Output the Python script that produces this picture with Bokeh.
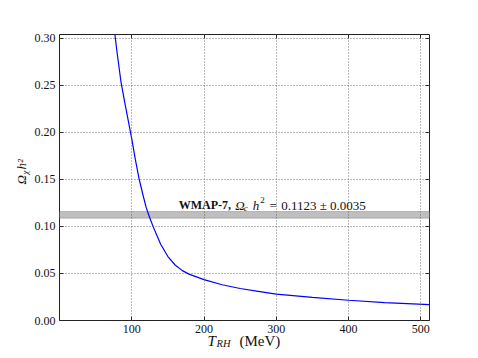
import math
from bokeh.plotting import figure
from bokeh.models import Label, BoxAnnotation, LinearAxis, FixedTicker, Range1d
from bokeh.embed import file_html
from bokeh.resources import INLINE

# --- data ---
t_rh = [76, 80, 85, 90, 95, 100, 105, 110, 115, 120, 125, 130, 140, 150, 160,
        170, 180, 200, 225, 250, 275, 300, 350, 400, 450, 512]
omega = [0.308, 0.283, 0.254, 0.233, 0.213, 0.193, 0.171, 0.151, 0.135, 0.120,
         0.109, 0.099, 0.081, 0.068, 0.059, 0.053, 0.049, 0.0435, 0.038, 0.034,
         0.031, 0.028, 0.0245, 0.0215, 0.019, 0.0168]
wmap_central = 0.1123
wmap_err = 0.0035
x_ticks = [100, 200, 300, 400, 500]
x_tick_labels = ["100", "200", "300", "400", "500"]
y_ticks = [0.0, 0.05, 0.10, 0.15, 0.20, 0.25, 0.30]
y_tick_labels = ["0.00", "0.05", "0.10", "0.15", "0.20", "0.25", "0.30"]

SERIF = "Liberation Serif"

p = figure(width=470, height=350, output_backend="svg", toolbar_location=None,
           x_range=Range1d(0, 512), y_range=Range1d(0, 0.304),
           min_border_left=59, min_border_right=41, min_border_top=34,
           min_border_bottom=30, background_fill_color="white",
           border_fill_color="white")
p.outline_line_color = "#222222"
p.outline_line_width = 1

band = BoxAnnotation(bottom=wmap_central - wmap_err, top=wmap_central + wmap_err,
                     fill_color="#bfbfbf", fill_alpha=1.0,
                     line_color="#555555", line_width=1, level="underlay")
p.add_layout(band)

p.line(t_rh, omega, line_color="#0000ff", line_width=1.2)

def style_axis(ax, ticks, labels, show):
    ax.ticker = FixedTicker(ticks=ticks)
    ax.major_label_overrides = {t: (l if show else "") for t, l in zip(ticks, labels)}
    ax.axis_line_color = None
    ax.major_tick_in = 4
    ax.major_tick_out = 0
    ax.major_tick_line_color = "#222222"
    ax.minor_tick_line_color = None
    ax.major_label_text_font = SERIF
    ax.major_label_text_font_size = "12px" if show else "0px"
    ax.major_label_text_color = "#111111"
    ax.major_label_standoff = 4 if show else 0

style_axis(p.xaxis[0], x_ticks, x_tick_labels, True)
style_axis(p.yaxis[0], y_ticks, y_tick_labels, True)
top_ax = LinearAxis()
right_ax = LinearAxis()
style_axis(top_ax, x_ticks, x_tick_labels, False)
style_axis(right_ax, y_ticks, y_tick_labels, False)
p.add_layout(top_ax, "above")
p.add_layout(right_ax, "right")

p.xgrid[0].ticker = FixedTicker(ticks=x_ticks)
p.ygrid[0].ticker = FixedTicker(ticks=y_ticks)
for g in (p.xgrid[0], p.ygrid[0]):
    g.grid_line_color = "#555555"
    g.grid_line_alpha = 0.8
    g.grid_line_dash = "1 2"
    g.grid_line_width = 1
    g.level = "overlay"

def lab(text, place="center", **kw):
    d = dict(text=text, text_font=SERIF, text_baseline="alphabetic",
             text_color="#111111")
    d.update(kw)
    if place == "center":
        p.add_layout(Label(**d))
    else:
        p.add_layout(Label(**d), place)

# WMAP annotation (anchored in data space)
ax_, ay_ = 165, 0.1224
lab("WMAP-7,", x=ax_, y=ay_, text_font_size="12px", text_font_style="bold")
lab("Ω", x=ax_, y=ay_, x_offset=56.4, text_font_size="13px", text_font_style="italic")
lab("c", x=ax_, y=ay_, x_offset=65, y_offset=-3, text_font_size="9px", text_font_style="italic")
lab("h", x=ax_, y=ay_, x_offset=74, text_font_size="13px", text_font_style="italic")
lab("2", x=ax_, y=ay_, x_offset=81.5, y_offset=5, text_font_size="9px")
lab("=", x=ax_, y=ay_, x_offset=90.7, text_font_size="13px")
lab("0.1123 ± 0.0035", x=ax_, y=ay_, x_offset=102.4, text_font_size="13px")

# axis titles: canvas coordinates, held in side panels with spare room
C = dict(x_units="canvas", y_units="canvas")
lab("T", place="right", x=207, y=340, text_font_size="15px",
    text_font_style="italic", **C)
lab("RH", place="above", x=216, y=343, text_font_size="10.5px",
    text_font_style="italic", **C)
lab("(MeV)", place="above", x=239, y=340, text_font_size="15px", **C)

A = math.pi / 2
lab("Ω", place="left", x=21, y=184, angle=A, text_font_size="13px",
    text_font_style="italic", **C)
lab("χ", place="left", x=24, y=174, angle=A, text_font_size="9px",
    text_font_style="italic", **C)
lab("h²", place="right", x=21, y=169, angle=A, text_font_size="13px",
    text_font_style="italic", **C)

open("out.html", "w").write(file_html(p, INLINE))
